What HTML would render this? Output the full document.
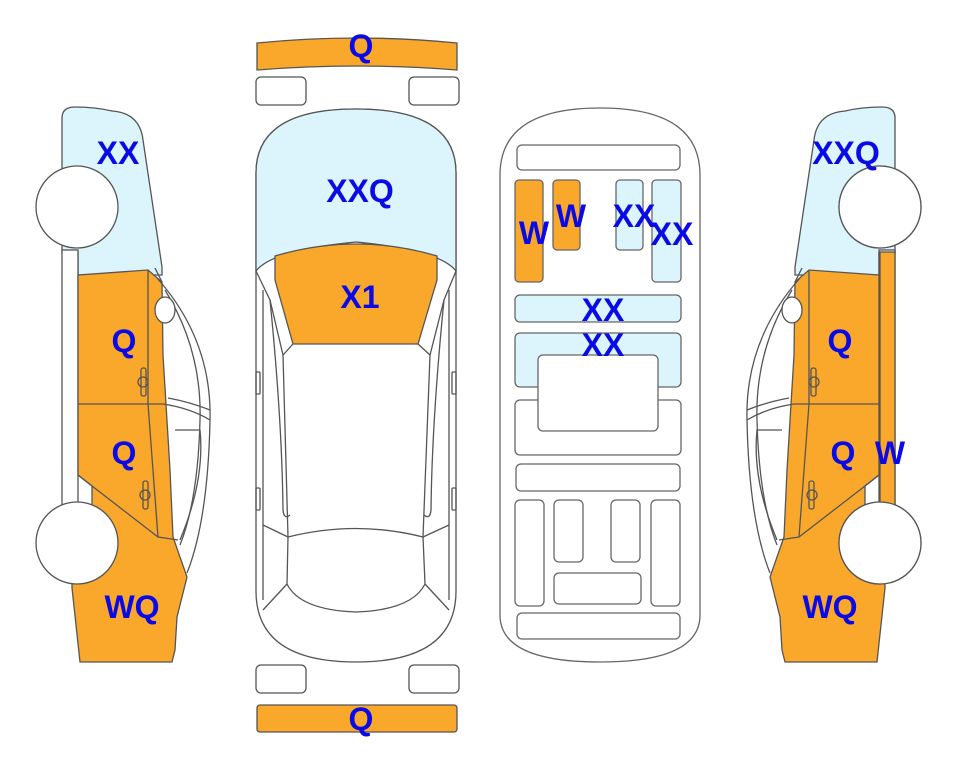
<!DOCTYPE html>
<html><head><meta charset="utf-8"><style>
html,body{margin:0;padding:0;background:#fff;}
svg{display:block}
text{font-family:"Liberation Sans",sans-serif;font-weight:bold;font-size:32px;fill:#0a0ae6;text-anchor:middle;}
</style></head><body>
<svg width="963" height="768" viewBox="0 0 963 768" xmlns="http://www.w3.org/2000/svg">
<defs>
<g id="side" stroke="#555" stroke-width="1.3" fill="none">
  <path d="M62,118 Q62,107 75,107 Q95,107 112,111 Q140,113 143,140 Q152,200 162,267 L162,275 L78,275 L78,253 L62,253 Z" fill="#dcf4fc"/>
  <rect x="62" y="250" width="16" height="255" fill="#fff"/>
  <path d="M78,275 L148,270 L162,282 L163,355 L170,470 L173,537 L187,577 L177,617 L175,650 L172,662 L80,662 L72,588 L72,540 L92,505 L92,486 L78,475 Z" fill="#f9a82c"/>
  <path d="M157,278 Q212,340 210,420 Q208,520 187,573"/>
  <path d="M165,290 Q202,350 200,420 Q198,500 180,545"/>
  <path d="M155,268 L162,282"/>
  <ellipse cx="165" cy="310" rx="10" ry="13" fill="#fff"/>
  <path d="M78,404 L163,404 Q190,408 210,420"/>
  <path d="M168,398 Q190,402 210,410"/>
  <path d="M148,271 L148,404 L158,537"/>
  <path d="M92,486 L158,537 L178,540"/>
  <path d="M78,475 L92,486"/>
  <path d="M175,430 L200,430 Q205,480 180,540"/>
  <rect x="141" y="368" width="5" height="28" rx="2"/>
  <circle cx="143" cy="382" r="5"/>
  <rect x="143" y="481" width="5" height="28" rx="2"/>
  <circle cx="145" cy="495" r="5"/>
  <circle cx="77" cy="207" r="41" fill="#fff"/>
  <circle cx="77" cy="543" r="41" fill="#fff"/>
</g>
</defs>

<use href="#side"/>
<g transform="translate(957,0) scale(-1,1)">
  <use href="#side"/>
  <rect x="62" y="252" width="15" height="253" fill="#f9a82c" stroke="#555" stroke-width="1.3"/>
  <circle cx="77" cy="207" r="41" fill="#fff" stroke="#555" stroke-width="1.3"/>
  <circle cx="77" cy="543" r="41" fill="#fff" stroke="#555" stroke-width="1.3"/>
</g>

<g stroke="#555" stroke-width="1.3" fill="none">
  <path d="M257,43 Q357,33 457,43 L457,70 Q357,62 257,70 Z" fill="#f9a82c"/>
  <rect x="256" y="77" width="50" height="28" rx="5" fill="#fff"/>
  <rect x="409" y="77" width="50" height="28" rx="5" fill="#fff"/>
  <path d="M256,173 Q256,109 356,109 Q456,109 456,173 L456,591 Q456,662 356,662 Q256,662 256,591 Z" fill="#fff"/>
  <path d="M256,173 Q256,109 356,109 Q456,109 456,173 L456,271 Q440,250 356,242 Q272,250 256,271 Z" fill="#dcf4fc"/>
  <path d="M275,256 Q356,232 437,256 L437,280 L418,344 L293,344 L275,280 Z" fill="#f9a82c"/>
  <path d="M256,271 L270,300 L283,355 L293,344 M456,271 L444,300 L430,355 L418,344"/>
  <path d="M283,355 L288,537 Q356,520 423,537 L430,355"/>
  <path d="M263,290 L263,600 M449,290 L449,600"/>
  <path d="M270,300 Q282,420 283,510 Q284,520 290,515 M444,300 Q432,420 431,510 Q430,520 424,515"/>
  <path d="M288,537 L287,584 Q300,610 356,612 Q412,610 425,584 L423,537"/>
  <path d="M287,584 L263,610 M425,584 L449,610"/>
  <path d="M263,525 L288,537 M449,525 L423,537"/>
  <rect x="256" y="372" width="4" height="22" rx="1"/>
  <rect x="452" y="372" width="4" height="22" rx="1"/>
  <rect x="256" y="488" width="4" height="22" rx="1"/>
  <rect x="452" y="488" width="4" height="22" rx="1"/>
  <rect x="256" y="665" width="50" height="28" rx="5" fill="#fff"/>
  <rect x="409" y="665" width="50" height="28" rx="5" fill="#fff"/>
  <rect x="257" y="705" width="200" height="27" rx="3" fill="#f9a82c"/>
</g>

<g stroke="#666" stroke-width="1.3" fill="#fff">
  <path d="M500,175 Q500,108 600,108 Q700,108 700,175 L700,615 Q700,662 600,662 Q500,662 500,615 Z"/>
  <rect x="517" y="145" width="163" height="25" rx="5"/>
  <rect x="515" y="180" width="28" height="102" rx="4" fill="#f9a82c"/>
  <rect x="553" y="180" width="27" height="70" rx="4" fill="#f9a82c"/>
  <rect x="616" y="180" width="27" height="70" rx="4" fill="#dcf4fc"/>
  <rect x="652" y="180" width="29" height="102" rx="4" fill="#dcf4fc"/>
  <rect x="515" y="295" width="166" height="27" rx="5" fill="#dcf4fc"/>
  <rect x="515" y="333" width="166" height="54" rx="5" fill="#dcf4fc"/>
  <rect x="515" y="400" width="166" height="55" rx="5"/>
  <rect x="538" y="355" width="120" height="76" rx="5"/>
  <rect x="516" y="464" width="164" height="27" rx="5"/>
  <rect x="515" y="500" width="29" height="106" rx="5"/>
  <rect x="554" y="500" width="29" height="62" rx="5"/>
  <rect x="611" y="500" width="29" height="62" rx="5"/>
  <rect x="651" y="500" width="29" height="106" rx="5"/>
  <rect x="554" y="573" width="87" height="31" rx="5"/>
  <rect x="517" y="613" width="163" height="26" rx="5"/>
</g>

<text x="118" y="164">XX</text>
<text x="124" y="352">Q</text>
<text x="124" y="464">Q</text>
<text x="132" y="618">WQ</text>
<text x="361" y="57">Q</text>
<text x="360" y="202">XXQ</text>
<text x="360" y="308">X1</text>
<text x="361" y="730">Q</text>
<text x="534" y="244">W</text>
<text x="571" y="227">W</text>
<text x="634" y="227">XX</text>
<text x="672" y="245">XX</text>
<text x="603" y="321">XX</text>
<text x="603" y="356">XX</text>
<text x="846" y="164">XXQ</text>
<text x="840" y="352">Q</text>
<text x="843" y="464">Q</text>
<text x="890" y="464">W</text>
<text x="830" y="618">WQ</text>
</svg>
</body></html>
